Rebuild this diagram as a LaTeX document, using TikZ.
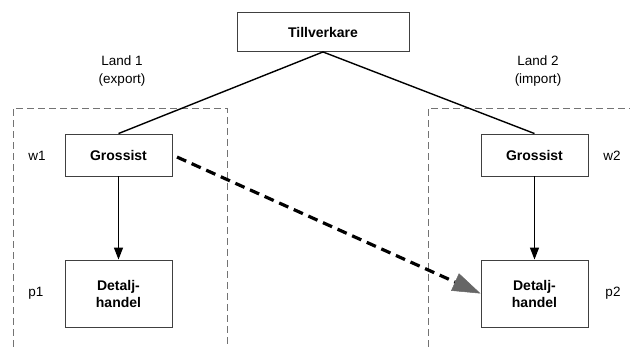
\documentclass[tikz,border=0pt]{standalone}
\usepackage{fontspec}
\setmainfont{Liberation Sans}
\usetikzlibrary{arrows.meta}
\begin{document}
\begin{tikzpicture}[x=1pt,y=-1pt,
  boxnode/.style={draw=black!75,line width=0.9pt,fill=white,minimum width=107pt,font=\fontsize{14}{17}\selectfont\bfseries,align=center,inner sep=0pt},
  lbl/.style={font=\fontsize{13.5}{18}\selectfont,align=center,inner sep=0pt},
  region/.style={draw=black!55,line width=0.8pt,dash pattern=on 7pt off 4pt},
  conn/.style={draw=black,line width=1.4pt},
  flow/.style={draw=black,line width=1.4pt,-{Triangle[length=12pt,width=9pt]}},
  trade/.style={draw=black,line width=3.2pt,dash pattern=on 10pt off 6pt,-{Triangle[length=28pt,width=19pt,color=black!60,fill=black!60,line width=0.5pt]}}
]
\useasboundingbox (0,0) rectangle (630,347);
% regions
\draw[region] (13,347) -- (13,108) -- (227,108) -- (227,347);
\draw[region] (428,347) -- (428,108) -- (630,108);
% nodes
\node[boxnode,minimum width=172pt,minimum height=39pt] (t) at (323,32) {Tillverkare};
\node[boxnode,minimum height=42pt] (g1) at (118.5,155) {Grossist};
\node[boxnode,minimum height=42pt] (g2) at (534.5,155) {Grossist};
\node[boxnode,minimum height=67pt] (d1) at (118.5,293.5) {Detalj-\\handel};
\node[boxnode,minimum height=67pt] (d2) at (534.5,293.5) {Detalj-\\handel};
% labels
\node[lbl] (l1) at (122,71) {Land 1\\(export)};
\node[lbl] (l2) at (538,71) {Land 2\\(import)};
\node[lbl] (w1) at (37,156) {w1};
\node[lbl] (w2) at (612,156) {w2};
\node[lbl] (p1) at (36,293) {p1};
\node[lbl] (p2) at (613,293) {p2};
% connectors
\draw[conn] (t.south) -- (g1.north);
\draw[conn] (t.south) -- (g2.north);
\draw[flow] (g1.south) -- (d1.north);
\draw[flow] (g2.south) -- (d2.north);
\draw[trade,shorten <=5pt] (g1.east) -- (d2.west);
\end{tikzpicture}
\end{document}
